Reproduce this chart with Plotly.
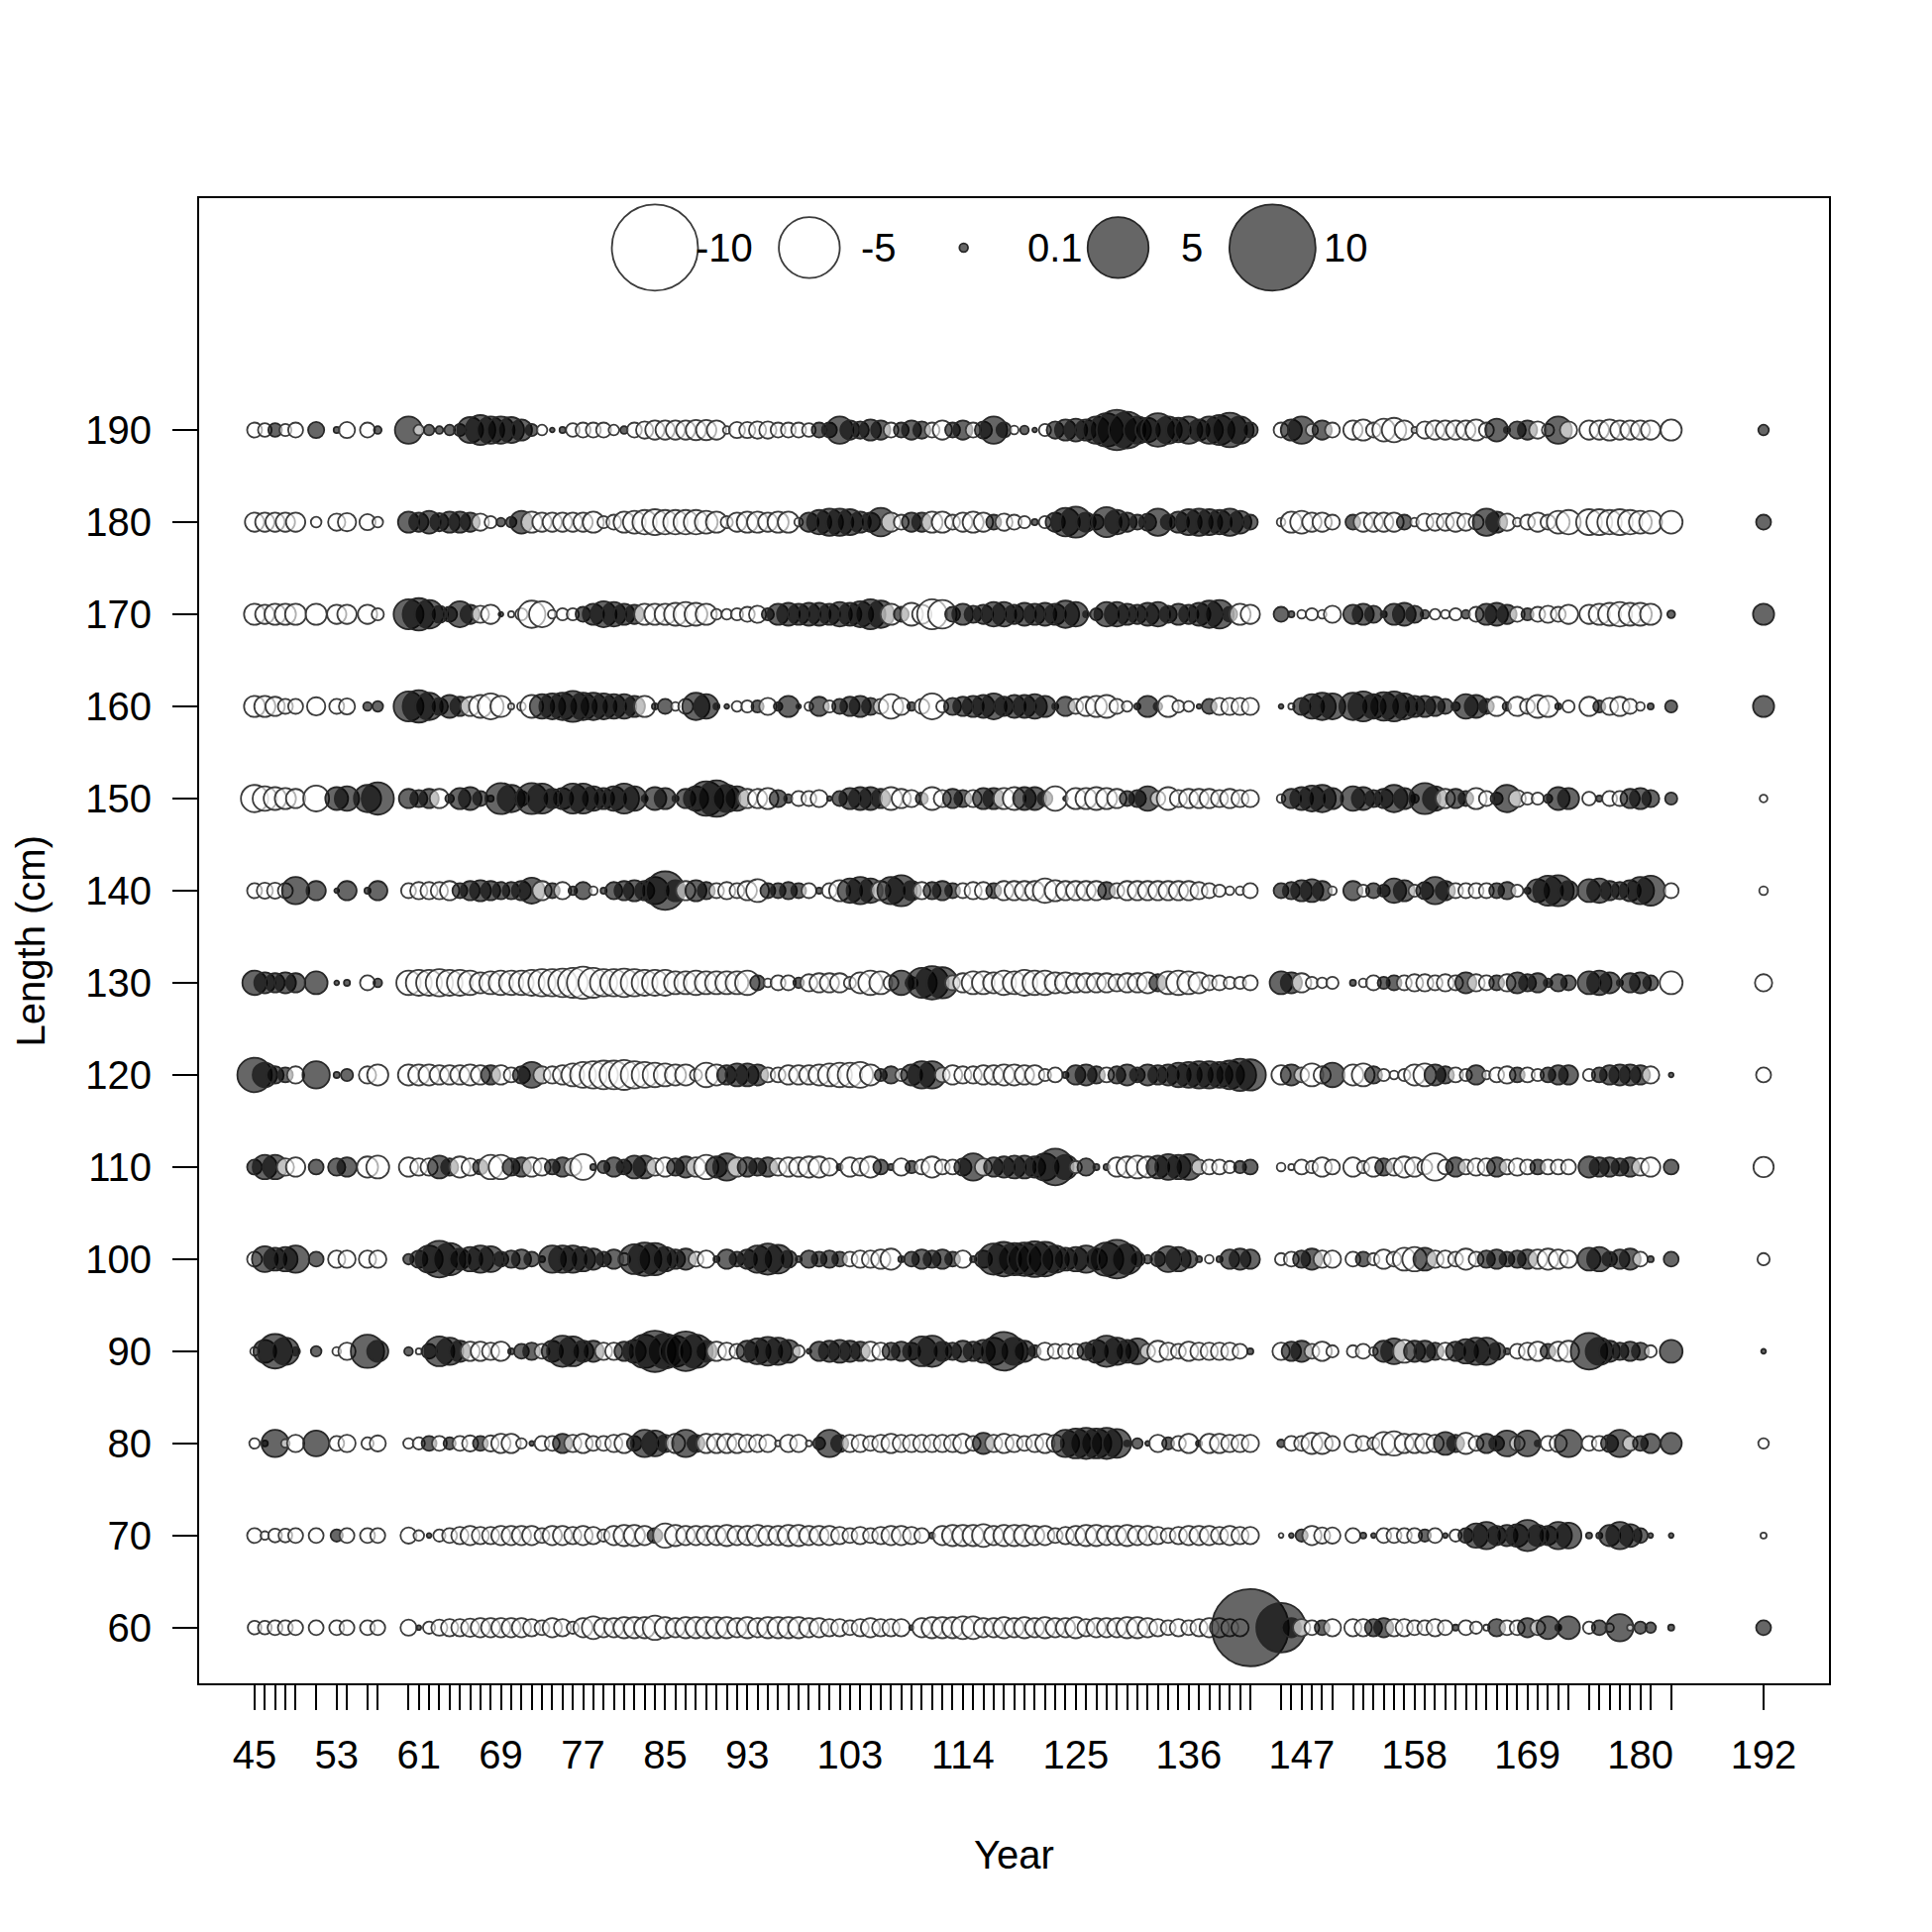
import math
import plotly.graph_objects as go

# ---------------- data ----------------
years = [45, 46, 47, 48, 49, 51, 53, 54, 56, 57,
         60, 61, 62, 63, 64, 65, 66, 67, 68, 69,
         70, 71, 72, 73, 74, 75, 76, 77, 78, 79,
         80, 81, 82, 83, 84, 85, 86, 87, 88, 89,
         90, 91, 92, 93, 94, 95, 96, 97, 98, 99,
         100, 101, 102, 103, 104, 105, 106, 107, 108, 109,
         110, 111, 112, 113, 114, 115, 116, 117, 118, 119,
         120, 121, 122, 123, 124, 125, 126, 127, 128, 129,
         130, 131, 132, 133, 134, 135, 136, 137, 138, 139,
         140, 141, 142,
         145, 146, 147, 148, 149, 150,
         152, 153, 154, 155, 156, 157, 158, 159, 160, 161, 162,
         163, 164, 165, 166, 167, 168, 169, 170, 171, 172, 173,
         175, 176, 177, 178, 179, 180, 181,
         183, 192]

lengths = [60, 70, 80, 90, 100, 110, 120, 130, 140, 150, 160, 170, 180, 190]

xtick_labels = [45, 53, 61, 69, 77, 85, 93, 103, 114, 125, 136, 147, 158, 169, 180, 192]

res_190 = [-0.3, -0.25, 0.25, -0.2, -0.3, 0.35, 0.05, -0.35, -0.3, 0.08,
           1.0, -0.15, 0.15, 0.08, 0.15, 0.2, 0.9, 1.2, 1.0, 1.0,
           0.9, 0.6, 0.2, -0.15, 0.03, 0.05, -0.25, -0.3, -0.3, -0.3,
           -0.15, 0.08, -0.3, -0.4, -0.5, -0.5, -0.5, -0.5, -0.55, -0.55,
           -0.5, -0.08, -0.35, -0.35, -0.4, -0.4, -0.3, -0.3, -0.3, -0.25,
           0.3, 0.3, 1.0, 0.5, 0.4, 0.6, 0.5, -0.3, 0.3, 0.5,
           0.4, -0.3, -0.5, 0.3, 0.5, -0.3, 0.4, 1.0, 0.3, -0.1,
           0.1, 0.03, -0.2, 0.4, 0.6, 0.7, 0.6, 1.0, 1.5, 2.2,
           1.8, 1.0, 0.8, 1.5, 1.0, 0.8, 1.0, 0.6, 1.0, 1.2,
           1.6, 1.0, 0.3,
           -0.3, 0.6, 1.0, -0.2, 0.5, -0.3,
           -0.5, -0.6, -0.3, -0.7, -0.8, -0.5, -0.05, -0.4, -0.5, -0.5, -0.5,
           -0.5, -0.6, -0.3, 0.7, 0.05, 0.4, 0.5, -0.4, -0.2, 1.0, -0.4,
           -0.5, -0.5, -0.6, -0.5, -0.5, -0.5, -0.5,
           -0.6, 0.15]

res_180 = [-0.5, -0.5, -0.5, -0.5, -0.5, -0.15, -0.4, -0.45, -0.35, -0.15,
           0.6, 0.5, 0.7, 0.45, 0.6, 0.6, 0.5, -0.4, -0.2, 0.1,
           0.15, 0.7, -0.6, -0.5, -0.5, -0.5, -0.5, -0.5, -0.6, -0.2,
           -0.3, -0.6, -0.7, -0.8, -0.9, -0.8, -0.8, -0.8, -0.8, -0.7,
           -0.6, -0.2, -0.5, -0.6, -0.6, -0.5, -0.6, -0.6, -0.1, 0.5,
           0.8, 1.0, 1.0, 0.9, 0.6, 0.5, 1.1, -0.5, -0.3, 0.5,
           0.5, -0.6, -0.6, -0.3, -0.5, -0.6, -0.5, 0.3, -0.4, -0.3,
           -0.2, 0.05, -0.2, 0.5, 1.1, 1.3, 0.5, 0.3, 1.2, 0.8,
           0.5, 0.3, 0.4, 1.0, 0.3, 0.6, 0.9, 1.0, 0.9, 0.8,
           1.0, 0.7, 0.3,
           -0.1, -0.6, -0.7, -0.5, -0.5, -0.3,
           0.3, -0.5, -0.5, -0.5, -0.5, 0.3, -0.1, -0.4, -0.4, -0.4, -0.5,
           -0.4, -0.3, 1.0, 0.6, -0.4, -0.1, -0.3, -0.5, -0.3, -0.7, -0.8,
           -0.9, -0.9, -0.8, -0.9, -0.8, -0.7, -0.7,
           -0.7, 0.3]

res_170 = [-0.6, -0.5, -0.6, -0.6, -0.6, -0.6, -0.5, -0.5, -0.5, -0.2,
           1.2, 1.4, 1.1, 0.4, 0.3, 0.9, 0.5, -0.4, -0.5, 0.03,
           -0.05, -0.2, -1.0, -0.9, -0.1, -0.2, -0.2, 0.3, 0.6, 0.9,
           0.8, 0.6, 0.5, -0.6, -0.6, -0.6, -0.7, -0.8, -0.7, -0.6,
           -0.15, -0.15, -0.2, -0.3, -0.4, 0.2, 0.6, 0.7, 0.6, 0.7,
           0.7, 0.6, 0.8, 0.7, 0.9, 1.2, 1.0, -0.6, 0.3, -0.7,
           -0.5, -1.2, -1.1, 0.3, 0.6, 0.4, 0.5, 0.8, 0.8, 0.5,
           0.7, 0.6, 0.7, 0.6, 1.0, 0.8, 0.05, 0.2, 0.8, 0.8,
           0.6, 0.5, 0.7, 0.8, 0.4, 0.6, 0.5, 0.7, 1.0, 1.1,
           0.3, -0.6, -0.5,
           0.3, 0.05, -0.1, -0.2, -0.1, -0.4,
           0.5, 0.6, 0.4, 0.05, 0.6, 0.7, 0.4, 0.1, -0.15, -0.1, -0.2,
           0.1, -0.3, 0.6, 0.7, 0.5, -0.3, 0.2, -0.3, -0.4, -0.3, -0.5,
           -0.5, -0.6, -0.7, -0.8, -0.7, -0.7, -0.6,
           0.08, 0.6]

res_160 = [-0.6, -0.6, -0.5, -0.3, -0.3, -0.45, -0.3, -0.35, 0.1, 0.15,
           1.2, 1.4, 1.0, 0.4, 0.7, 0.5, -0.5, -0.7, -0.9, -0.6,
           -0.05, -0.1, -0.7, 0.8, 0.9, 1.0, 1.3, 1.0, 1.0, 0.9,
           0.8, 0.8, 0.6, -0.6, 0.05, 0.3, -0.1, -0.3, 1.0, 0.8,
           0.05, 0.03, -0.15, -0.2, 0.2, -0.4, 0.1, 0.6, 0.03, -0.1,
           0.5, -0.2, 0.3, 0.5, 0.6, 0.4, -0.3, -0.8, -0.4, 0.1,
           -0.3, -0.9, -0.2, 0.4, 0.5, 0.6, 0.7, 0.9, 0.5, 0.7,
           0.7, 0.8, 0.6, 0.05, 0.5, -0.3, -0.5, -0.6, -0.7, -0.3,
           -0.15, 0.05, 0.6, 0.1, -0.6, -0.2, -0.15, 0.03, 0.3, -0.4,
           -0.4, -0.4, -0.4,
           0.03, -0.05, 0.4, 0.8, 1.0, 0.9,
           1.0, 1.2, 0.8, 1.1, 1.2, 0.9, 0.6, 0.6, 0.5, 0.3, 0.1,
           0.8, 0.7, 0.3, -0.5, 0.1, -0.5, -0.3, -0.7, -0.6, 0.05, -0.2,
           -0.5, 0.2, -0.4, -0.5, -0.3, -0.1, 0.05,
           0.2, 0.6]

res_150 = [-1.0, -0.8, -0.7, -0.6, -0.5, -0.9, 0.7, 0.8, 1.0, 1.4,
           0.5, 0.4, 0.5, -0.5, 0.1, 0.6, 0.7, 0.3, 0.05, 1.3,
           1.0, 0.3, 1.3, 1.2, 0.5, 0.6, 1.2, 1.2, 0.8, 0.6,
           0.8, 1.2, 0.8, 0.05, 0.7, 0.6, 0.05, 0.5, 0.8, 1.6,
           1.8, 1.0, 0.8, -0.5, -0.5, -0.6, 0.4, 0.1, -0.3, -0.3,
           -0.4, 0.03, 0.3, 0.6, 0.7, 0.7, 0.5, -0.7, -0.5, -0.4,
           0.2, -0.7, -0.4, 0.5, 0.4, -0.4, 0.6, 0.6, -0.6, -0.7,
           0.7, 0.7, 0.3, -0.8, 0.03, -0.6, -0.6, -0.7, -0.6, -0.5,
           0.3, 0.4, 0.8, -0.3, -0.7, -0.4, -0.5, -0.5, -0.5, -0.4,
           -0.5, -0.4, -0.4,
           -0.1, 0.5, 0.7, 0.9, 1.0, 0.6,
           0.8, 0.7, 0.4, 0.5, 1.0, 0.6, 0.1, 1.3, 0.8, -0.5, 0.5,
           0.3, -0.6, -0.3, 0.2, 1.0, -0.4, -0.2, -0.2, 0.1, 0.7, 0.6,
           -0.25, 0.05, -0.3, -0.3, 0.5, 0.6, 0.4,
           0.2, -0.08]

res_140 = [-0.3, -0.35, -0.35, -0.3, 1.0, 0.5, 0.03, 0.5, 0.05, 0.5,
           -0.3, -0.4, -0.4, -0.4, -0.5, 0.3, 0.5, 0.6, 0.5, 0.4,
           0.4, 0.5, 0.9, -0.5, 0.3, -0.4, 0.1, 0.4, -0.1, 0.05,
           0.4, 0.5, 0.6, 0.5, 1.0, 2.0, 0.6, -0.5, 0.6, 0.4,
           -0.3, -0.4, -0.3, -0.5, -0.7, 0.3, 0.3, 0.4, 0.3, -0.3,
           0.05, -0.3, -0.6, 0.8, 1.0, 0.8, -0.5, 1.0, 1.3, 0.5,
           -0.4, 0.4, 0.5, 0.3, -0.3, -0.4, -0.4, 0.3, -0.5, -0.5,
           -0.5, -0.5, -0.8, -0.6, -0.5, -0.5, -0.5, -0.5, 0.4, -0.3,
           -0.5, -0.5, -0.5, -0.5, -0.5, -0.5, -0.5, -0.4, -0.3, -0.2,
           -0.1, -0.1, -0.3,
           0.3, 0.4, 0.6, 0.7, 0.5, -0.1,
           0.5, -0.2, 0.3, 0.2, 0.8, 0.6, -0.2, 0.4, 1.0, 0.5, -0.3,
           -0.3, -0.3, -0.3, 0.3, 0.4, -0.2, 0.05, 0.7, 1.2, 1.3, 0.5,
           0.7, 0.8, 0.5, 0.4, 0.6, 1.0, 1.2,
           -0.3, -0.1]

res_130 = [0.8, 0.6, 0.5, 0.6, 0.5, 0.7, 0.03, 0.05, -0.3, 0.1,
           -0.8, -0.9, -0.9, -1.0, -0.9, -0.9, -0.8, -0.6, -0.7, -0.8,
           -0.8, -0.8, -0.9, -1.0, -1.0, -1.1, -1.2, -1.4, -1.2, -1.0,
           -1.0, -1.1, -1.0, -0.9, -0.9, -0.9, -0.7, -0.7, -0.8, -0.7,
           -0.7, -0.7, -0.7, -0.8, 0.3, -0.1, -0.3, -0.3, 0.15, -0.4,
           -0.5, -0.5, -0.5, -0.2, -0.6, -0.8, -0.7, -0.3, 0.8, 0.2,
           1.2, 1.5, 1.3, -0.3, -0.5, -0.7, -0.7, -0.6, -0.8, -0.7,
           -0.9, -0.8, -0.8, -0.6, -0.6, -0.5, -0.5, -0.5, -0.5, -0.4,
           -0.5, -0.5, -0.6, 0.4, -0.7, -0.8, -0.7, -0.6, -0.3, -0.3,
           -0.2, -0.2, -0.3,
           0.7, 0.6, -0.5, -0.2, -0.15, -0.2,
           0.05, -0.1, -0.3, 0.2, 0.3, -0.3, -0.4, -0.4, -0.3, -0.4, -0.3,
           0.6, -0.4, -0.3, 0.3, -0.4, 0.6, 0.4, 0.5, 0.1, 0.4, 0.3,
           0.7, 0.8, 0.6, 0.05, 0.5, 0.6, 0.3,
           -0.7, -0.4]

res_120 = [1.6, 0.8, 0.4, 0.3, -0.4, 1.0, 0.05, 0.2, -0.4, -0.6,
           -0.6, -0.6, -0.6, -0.5, -0.5, -0.5, -0.6, -0.5, 0.5, -0.5,
           -0.3, 0.4, 0.9, -0.4, -0.4, -0.5, -0.7, -0.9, -1.0, -1.1,
           -1.1, -1.2, -1.0, -0.9, -0.8, -0.7, -0.6, -0.6, -0.2, -0.8,
           -0.6, 0.5, 0.7, 0.7, 0.6, -0.3, -0.3, -0.5, -0.5, -0.5,
           -0.6, -0.7, -0.8, -0.8, -0.9, -0.6, 0.2, 0.4, -0.2, 0.6,
           1.0, 1.0, -0.3, -0.5, -0.4, -0.4, -0.5, -0.5, -0.6, -0.6,
           -0.5, -0.5, -0.2, -0.3, 0.05, 0.5, 0.6, 0.4, -0.3, 0.4,
           0.6, 0.3, 0.6, 0.5, 0.6, 0.8, 0.9, 1.0, 1.0, 0.9,
           1.1, 1.4, 1.3,
           -0.5, 0.6, -0.3, -0.7, -0.4, 0.8,
           -0.6, -0.7, 0.4, -0.2, -0.1, -0.2, -0.6, -0.7, 0.6, 0.4, -0.3,
           -0.2, 0.5, -0.1, -0.3, -0.4, 0.3, -0.3, -0.2, 0.3, 0.5, 0.5,
           -0.2, 0.3, 0.5, 0.6, 0.6, 0.5, -0.4,
           0.03, -0.3]

res_110 = [0.3, 0.8, 0.8, -0.4, -0.5, 0.3, 0.4, 0.5, -0.6, -0.7,
           -0.5, -0.4, -0.4, 0.7, 0.4, -0.6, -0.4, 0.3, -0.8, -0.8,
           0.4, 0.5, -0.5, -0.4, 0.3, 0.5, -0.4, -0.9, 0.05, 0.2,
           0.5, 0.3, 0.7, 0.7, -0.4, -0.5, 0.4, 0.6, -0.5, -0.8,
           0.6, 1.0, -0.5, 0.5, 0.4, 0.5, -0.4, -0.5, -0.5, -0.6,
           -0.6, -0.4, 0.05, -0.5, -0.4, -0.6, 0.3, 0.05, -0.4, 0.2,
           -0.3, -0.6, -0.3, -0.3, 0.4, 1.0, -0.4, 0.5, 0.6, 0.7,
           0.7, 0.6, 1.0, 1.8, 0.8, -0.2, 0.4, 0.05, 0.05, -0.5,
           -0.6, -0.7, -0.6, 0.7, 0.9, 0.8, 0.9, -0.3, -0.3, -0.3,
           -0.2, 0.2, 0.3,
           -0.1, -0.05, -0.3, -0.2, -0.5, -0.3,
           -0.5, -0.2, -0.5, 0.4, -0.4, -0.6, -0.5, -0.3, -1.0, -0.3, 0.5,
           -0.3, -0.4, -0.4, 0.5, -0.3, -0.4, -0.3, 0.3, -0.3, -0.3, -0.3,
           0.6, 0.5, 0.5, 0.4, 0.5, -0.4, -0.5,
           0.3, -0.55]

res_100 = [-0.3, 0.9, 0.7, 0.8, 1.0, 0.3, -0.4, -0.4, -0.4, -0.4,
           0.15, 0.4, 1.0, 1.8, 1.4, 0.6, 0.8, 1.0, 0.9, 0.3,
           0.4, 0.5, 0.3, 0.05, 1.0, 1.0, 1.0, 0.8, 0.6, 0.3,
           0.5, -0.2, 1.2, 1.5, 1.4, 0.8, 0.5, 0.6, -0.3, -0.4,
           0.05, 0.5, 0.3, 0.5, 1.0, 1.3, 1.1, 0.4, 0.05, 0.4,
           0.3, 0.4, 0.3, -0.3, -0.4, -0.4, -0.5, -0.6, 0.05, 0.3,
           0.5, 0.4, 0.5, 0.3, -0.4, 0.05, 0.4, 1.3, 1.6, 1.4,
           1.5, 1.7, 1.6, 1.0, 0.7, 0.8, 1.0, 0.6, 1.5, 2.0,
           1.2, 0.3, 0.1, 0.3, 0.9, 0.8, 0.4, 0.05, -0.1, 0.05,
           0.5, 0.6, 0.5,
           -0.2, -0.3, 0.4, 0.6, -0.4, -0.4,
           -0.3, 0.3, -0.2, -0.5, -0.3, -0.7, -0.8, 0.7, -0.4, -0.4, -0.3,
           -0.6, -0.3, 0.4, 0.5, 0.3, 0.4, 0.5, -0.5, -0.6, -0.5, -0.4,
           0.7, 0.8, 0.3, 0.5, 0.6, -0.3, 0.05,
           0.3, -0.2]

res_90 = [-0.1, 0.7, 1.6, 1.0, 0.1, 0.15, -0.1, -0.4, 1.5, 0.6,
          0.1, -0.05, 0.3, 1.2, 1.0, 0.6, -0.5, -0.5, -0.4, -0.5,
          0.05, 0.3, 0.4, -0.3, 0.6, 1.3, 1.2, 0.6, 0.6, -0.4,
          -0.4, 0.5, 0.7, 1.5, 2.3, 1.6, 1.3, 2.1, 1.5, 0.6,
          -0.5, -0.4, -0.3, 0.6, 0.9, 1.1, 1.0, 0.7, -0.2, 0.03,
          0.5, 0.6, 0.7, 0.6, 0.5, -0.5, -0.4, 0.4, 0.5, 0.4,
          1.2, 1.3, 0.5, 0.4, 0.6, 0.5, 0.7, 1.0, 2.0, 1.0,
          0.6, 0.2, -0.4, -0.3, -0.3, -0.3, 0.4, 0.7, 1.3, 1.0,
          0.7, 0.9, -0.3, -0.6, -0.4, -0.3, -0.5, -0.4, -0.4, -0.4,
          -0.4, -0.3, 0.05,
          -0.4, 0.5, 0.6, -0.3, -0.5, -0.2,
          -0.2, -0.3, -0.1, 0.6, 0.9, -0.7, 0.6, 0.6, 0.4, -0.4, 0.5,
          0.8, 1.0, 1.0, 0.4, 0.05, -0.3, -0.4, -0.5, 0.3, -0.5, -0.6,
          1.8, 1.0, 0.6, 0.4, 0.5, 0.4, -0.2,
          0.7, 0.03]

res_80 = [-0.15, 0.05, 1.0, -0.1, -0.4, 0.9, -0.3, -0.4, -0.2, -0.35,
          -0.15, -0.2, 0.3, -0.3, 0.2, -0.3, -0.35, 0.3, -0.35, -0.5,
          -0.5, -0.15, 0.03, -0.3, -0.3, 0.5, -0.4, -0.5, -0.3, -0.3,
          -0.4, -0.5, 0.3, 1.0, 0.9, 0.4, -0.5, 1.0, 0.4, -0.5,
          -0.5, -0.5, -0.5, -0.4, -0.4, -0.4, -0.05, -0.4, -0.4, -0.05,
          0.2, 1.0, 0.4, -0.4, -0.4, -0.3, -0.4, -0.5, -0.4, -0.4,
          -0.4, -0.4, -0.4, -0.4, -0.5, -0.3, 0.6, -0.4, -0.5, -0.4,
          -0.3, -0.4, -0.5, -0.4, 1.0, 1.2, 1.3, 1.2, 1.3, 1.1,
          0.05, 0.15, 0.03, -0.4, 0.2, -0.3, -0.5, 0.05, -0.5, -0.5,
          -0.4, -0.4, -0.4,
          0.08, -0.3, -0.3, -0.6, -0.6, -0.3,
          -0.4, -0.3, -0.2, -0.7, -0.8, -0.5, -0.5, -0.5, -0.4, 0.7, 0.4,
          -0.6, -0.3, 0.5, 0.3, 0.9, -0.3, 0.9, 0.05, -0.3, -0.4, 1.0,
          -0.3, -0.3, 0.4, 1.0, -0.3, 0.3, 0.5,
          0.6, -0.15]

res_70 = [-0.3, -0.1, -0.25, -0.25, -0.3, -0.3, 0.2, -0.3, -0.3, -0.3,
          -0.35, -0.15, 0.03, -0.2, -0.3, -0.4, -0.5, -0.4, -0.4, -0.5,
          -0.5, -0.5, -0.5, -0.3, -0.5, -0.5, -0.4, -0.5, -0.4, -0.2,
          -0.5, -0.6, -0.6, -0.5, 0.3, -0.8, -0.6, -0.5, -0.5, -0.5,
          -0.5, -0.6, -0.5, -0.5, -0.6, -0.5, -0.5, -0.6, -0.6, -0.5,
          -0.5, -0.5, -0.4, -0.3, -0.4, -0.3, -0.4, -0.5, -0.5, -0.4,
          -0.3, 0.05, -0.5, -0.6, -0.6, -0.6, -0.7, -0.5, -0.6, -0.6,
          -0.6, -0.5, -0.5, -0.3, -0.4, -0.5, -0.6, -0.6, -0.5, -0.5,
          -0.6, -0.5, -0.5, -0.4, -0.3, -0.4, -0.5, -0.5, -0.5, -0.4,
          -0.5, -0.4, -0.4,
          -0.03, 0.03, 0.2, -0.5, -0.35, -0.35,
          -0.3, 0.05, 0.03, -0.3, -0.3, -0.3, -0.3, 0.2, -0.3, 0.03, -0.2,
          0.3, 0.8, 1.0, 0.5, 0.6, 0.7, 1.3, 0.6, 0.5, 1.0, 0.9,
          0.05, 0.05, 0.6, 1.0, 0.7, 0.3, 0.03,
          0.03, -0.05]

res_60 = [-0.25, -0.25, -0.3, -0.3, -0.3, -0.3, -0.3, -0.3, -0.3, -0.3,
          -0.35, 0.03, -0.2, -0.35, -0.4, -0.4, -0.45, -0.5, -0.5, -0.5,
          -0.5, -0.5, -0.4, -0.3, -0.5, -0.4, -0.2, -0.5, -0.7, -0.5,
          -0.5, -0.6, -0.6, -0.6, -0.8, -0.6, -0.5, -0.6, -0.6, -0.6,
          -0.6, -0.6, -0.5, -0.6, -0.5, -0.6, -0.6, -0.6, -0.6, -0.5,
          -0.5, -0.4, -0.4, -0.3, -0.4, -0.5, -0.4, -0.4, -0.4, 0.03,
          -0.5, -0.6, -0.6, -0.6, -0.7, -0.7, -0.5, -0.5, -0.6, -0.5,
          -0.6, -0.5, -0.6, -0.5, -0.5, -0.6, -0.4, -0.5, -0.5, -0.5,
          -0.6, -0.6, -0.5, -0.4, -0.3, -0.4, -0.3, -0.4, -0.5, -0.5,
          -0.4, -0.4, 8.0,
          3.3, 0.5, -0.4, -0.3, 0.3, -0.4,
          -0.4, -0.4, 0.4, 0.5, -0.4, -0.4, -0.3, -0.3, -0.4, -0.3, 0.05,
          -0.3, -0.2, -0.05, 0.4, -0.3, -0.3, 0.5, -0.3, 0.7, 0.05, 0.7,
          -0.2, 0.3, -0.1, 1.0, -0.05, 0.2, 0.15,
          0.05, 0.3]

residuals = [res_60, res_70, res_80, res_90, res_100, res_110, res_120,
             res_130, res_140, res_150, res_160, res_170, res_180, res_190]

legend_values = [-10, -5, 0.1, 5, 10]
legend_labels = ["-10", "-5", "0.1", "5", "10"]

# ---------------- styling ----------------
DIAM = 27.5          # px diameter for |value| = 1 (area proportional)
POS_FILL = "rgba(0,0,0,0.6)"
NEG_FILL = "rgba(255,255,255,0.6)"
POS_LINE = "rgb(40,40,40)"
NEG_LINE = "rgb(60,60,60)"
FONT = "Liberation Sans, Arial, sans-serif"


def style(v):
    return (DIAM * math.sqrt(abs(v)),
            POS_FILL if v > 0 else NEG_FILL,
            POS_LINE if v > 0 else NEG_LINE)


xs, ys, sz, fc, lc = [], [], [], [], []
for j, yr in enumerate(years):
    for i, L in enumerate(lengths):
        v = residuals[i][j]
        s, f, l = style(v)
        xs.append(yr)
        ys.append(L)
        sz.append(s)
        fc.append(f)
        lc.append(l)

fig = go.Figure()
fig.add_trace(go.Scatter(
    x=xs, y=ys, mode="markers", hoverinfo="skip",
    marker=dict(size=sz, sizemode="diameter", color=fc, opacity=1,
                line=dict(color=lc, width=1.8)),
    showlegend=False))

# in-plot legend
leg_x = [84 + 15.04 * k for k in range(len(legend_values))]
leg_txt_x = [87.76, 103.85, 120.07, 135.07, 149.0]
leg_y = 209.8
ls = [style(v) for v in legend_values]
fig.add_trace(go.Scatter(
    x=leg_x, y=[leg_y] * len(leg_x), mode="markers", hoverinfo="skip",
    marker=dict(size=[s[0] for s in ls], sizemode="diameter",
                color=[s[1] for s in ls], opacity=1,
                line=dict(color=[s[2] for s in ls], width=1.8)),
    showlegend=False, cliponaxis=False))

annotations = []
for tx, lab in zip(leg_txt_x, legend_labels):
    annotations.append(dict(x=tx, y=leg_y, xref="x", yref="y", text=lab,
                            showarrow=False, xanchor="left", yanchor="middle",
                            font=dict(size=40, family=FONT, color="black")))

annotations.append(dict(x=0.5, y=-0.1154, xref="paper", yref="paper",
                        text="Year", showarrow=False, xanchor="center",
                        yanchor="middle",
                        font=dict(size=40, family=FONT, color="black")))
annotations.append(dict(x=-0.1034, y=0.5, xref="paper", yref="paper",
                        text="Length (cm)", showarrow=False, textangle=-90,
                        xanchor="center", yanchor="middle",
                        font=dict(size=40, family=FONT, color="black")))

ticktext = [str(y) if y in xtick_labels else "" for y in years]

fig.update_layout(
    width=1950, height=1950,
    margin=dict(l=193, r=112, t=192, b=259),
    paper_bgcolor="white", plot_bgcolor="white",
    annotations=annotations,
    xaxis=dict(range=[39.6, 198.37], tickmode="array", tickvals=years,
               ticktext=ticktext, ticks="outside", ticklen=25, tickwidth=2,
               tickcolor="black", showline=True, mirror=True, linewidth=2,
               linecolor="black", showgrid=False, zeroline=False,
               ticklabelstandoff=11,
               tickfont=dict(size=40, family=FONT, color="black")),
    yaxis=dict(range=[53.96, 215.17], tickmode="array", tickvals=lengths,
               ticktext=[str(v) for v in lengths], ticks="outside",
               ticklen=25, tickwidth=2, tickcolor="black", showline=True,
               mirror=True, linewidth=2, linecolor="black", showgrid=False,
               zeroline=False, ticklabelstandoff=13,
               tickfont=dict(size=40, family=FONT, color="black")),
)

fig.write_html("out.html")
